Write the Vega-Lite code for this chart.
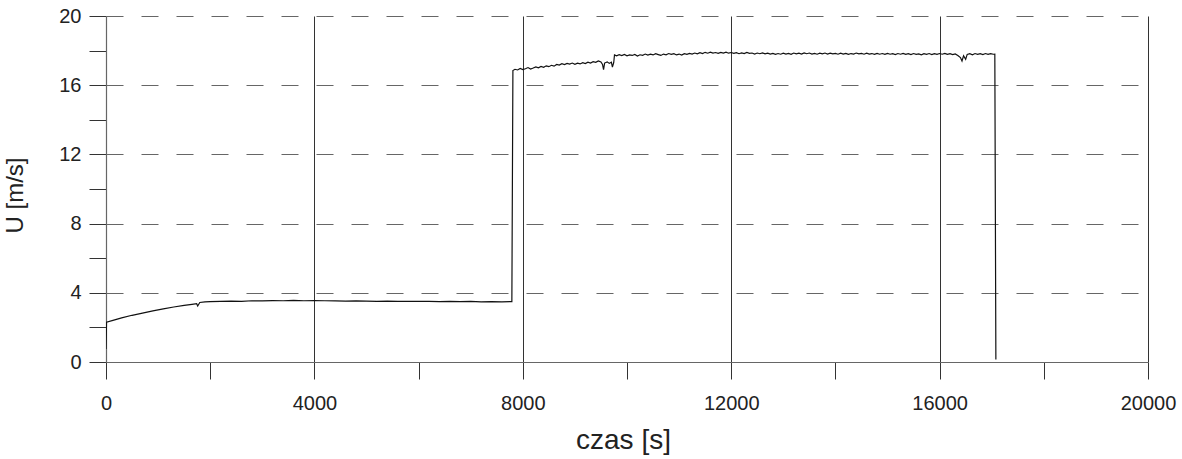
{
  "$schema": "https://vega.github.io/schema/vega-lite/v6.json",
  "autosize": {"type": "none"},
  "padding": {"left": 106, "top": 16, "right": 34, "bottom": 97},
  "width": 1042,
  "height": 346,
  "background": "white",
  "config": {
    "view": {"stroke": null},
    "font": "Liberation Sans",
    "axis": {"labelFont": "Liberation Sans", "titleFont": "Liberation Sans"}
  },
  "data": {
    "values": [
      {"t": 0, "u": 0.75}, {"t": 10, "u": 2.3}, {"t": 150, "u": 2.42}, {"t": 300, "u": 2.55},
      {"t": 500, "u": 2.7}, {"t": 700, "u": 2.83}, {"t": 900, "u": 2.96}, {"t": 1100, "u": 3.07},
      {"t": 1300, "u": 3.18}, {"t": 1500, "u": 3.27}, {"t": 1650, "u": 3.33}, {"t": 1740, "u": 3.37},
      {"t": 1760, "u": 3.24}, {"t": 1800, "u": 3.44}, {"t": 1900, "u": 3.47}, {"t": 2000, "u": 3.49},
      {"t": 2200, "u": 3.5}, {"t": 2400, "u": 3.52}, {"t": 2600, "u": 3.51}, {"t": 2800, "u": 3.54},
      {"t": 3000, "u": 3.53}, {"t": 3200, "u": 3.55}, {"t": 3400, "u": 3.54}, {"t": 3600, "u": 3.56},
      {"t": 3800, "u": 3.54}, {"t": 4000, "u": 3.55}, {"t": 4200, "u": 3.54}, {"t": 4400, "u": 3.53},
      {"t": 4600, "u": 3.52}, {"t": 4800, "u": 3.53}, {"t": 5000, "u": 3.52}, {"t": 5200, "u": 3.51},
      {"t": 5400, "u": 3.52}, {"t": 5600, "u": 3.5}, {"t": 5800, "u": 3.51}, {"t": 6000, "u": 3.5},
      {"t": 6200, "u": 3.51}, {"t": 6400, "u": 3.49}, {"t": 6600, "u": 3.5}, {"t": 6800, "u": 3.49},
      {"t": 7000, "u": 3.5}, {"t": 7200, "u": 3.48}, {"t": 7400, "u": 3.49}, {"t": 7600, "u": 3.48},
      {"t": 7790, "u": 3.49},
      {"t": 7810, "u": 16.85}, {"t": 7850, "u": 16.92}, {"t": 7900, "u": 16.88}, {"t": 7950, "u": 16.97},
      {"t": 8000, "u": 16.9}, {"t": 8050, "u": 16.95}, {"t": 8100, "u": 17.02}, {"t": 8150, "u": 16.93},
      {"t": 8200, "u": 16.99}, {"t": 8250, "u": 17.06}, {"t": 8300, "u": 17.0}, {"t": 8350, "u": 17.08},
      {"t": 8400, "u": 17.03}, {"t": 8450, "u": 17.12}, {"t": 8500, "u": 17.07}, {"t": 8550, "u": 17.15},
      {"t": 8600, "u": 17.1}, {"t": 8650, "u": 17.2}, {"t": 8700, "u": 17.16}, {"t": 8750, "u": 17.24},
      {"t": 8800, "u": 17.19}, {"t": 8850, "u": 17.26}, {"t": 8900, "u": 17.22}, {"t": 8950, "u": 17.28},
      {"t": 9000, "u": 17.21}, {"t": 9050, "u": 17.27}, {"t": 9100, "u": 17.23}, {"t": 9150, "u": 17.3},
      {"t": 9200, "u": 17.25}, {"t": 9250, "u": 17.33}, {"t": 9300, "u": 17.28}, {"t": 9350, "u": 17.36},
      {"t": 9400, "u": 17.32}, {"t": 9450, "u": 17.4}, {"t": 9500, "u": 17.34}, {"t": 9530, "u": 17.2},
      {"t": 9550, "u": 16.9}, {"t": 9570, "u": 17.28}, {"t": 9620, "u": 17.35}, {"t": 9660, "u": 17.26},
      {"t": 9700, "u": 17.33}, {"t": 9720, "u": 17.05}, {"t": 9745, "u": 17.3}, {"t": 9760, "u": 17.75},
      {"t": 9800, "u": 17.7}, {"t": 9850, "u": 17.76}, {"t": 9900, "u": 17.71}, {"t": 9950, "u": 17.78},
      {"t": 10000, "u": 17.7}, {"t": 10050, "u": 17.75}, {"t": 10100, "u": 17.72}, {"t": 10150, "u": 17.78},
      {"t": 10200, "u": 17.69}, {"t": 10250, "u": 17.76}, {"t": 10300, "u": 17.73}, {"t": 10350, "u": 17.8},
      {"t": 10400, "u": 17.74}, {"t": 10450, "u": 17.79}, {"t": 10500, "u": 17.75}, {"t": 10550, "u": 17.82},
      {"t": 10600, "u": 17.77}, {"t": 10650, "u": 17.72}, {"t": 10700, "u": 17.8}, {"t": 10750, "u": 17.76},
      {"t": 10800, "u": 17.83}, {"t": 10850, "u": 17.78}, {"t": 10900, "u": 17.82}, {"t": 10950, "u": 17.75},
      {"t": 11000, "u": 17.8}, {"t": 11050, "u": 17.74}, {"t": 11100, "u": 17.82}, {"t": 11150, "u": 17.78},
      {"t": 11200, "u": 17.84}, {"t": 11250, "u": 17.8}, {"t": 11300, "u": 17.86}, {"t": 11350, "u": 17.81},
      {"t": 11400, "u": 17.88}, {"t": 11450, "u": 17.83}, {"t": 11500, "u": 17.9}, {"t": 11550, "u": 17.85},
      {"t": 11600, "u": 17.91}, {"t": 11650, "u": 17.86}, {"t": 11700, "u": 17.89}, {"t": 11750, "u": 17.84},
      {"t": 11800, "u": 17.9}, {"t": 11850, "u": 17.86}, {"t": 11900, "u": 17.91}, {"t": 11950, "u": 17.85},
      {"t": 12000, "u": 17.89}, {"t": 12050, "u": 17.84}, {"t": 12100, "u": 17.88}, {"t": 12150, "u": 17.82},
      {"t": 12200, "u": 17.87}, {"t": 12250, "u": 17.83}, {"t": 12300, "u": 17.89}, {"t": 12350, "u": 17.84},
      {"t": 12400, "u": 17.86}, {"t": 12450, "u": 17.8}, {"t": 12500, "u": 17.86}, {"t": 12550, "u": 17.82},
      {"t": 12600, "u": 17.87}, {"t": 12650, "u": 17.81}, {"t": 12700, "u": 17.85}, {"t": 12750, "u": 17.8},
      {"t": 12800, "u": 17.84}, {"t": 12850, "u": 17.78}, {"t": 12900, "u": 17.83}, {"t": 12950, "u": 17.79},
      {"t": 13000, "u": 17.85}, {"t": 13050, "u": 17.8}, {"t": 13100, "u": 17.84}, {"t": 13150, "u": 17.79},
      {"t": 13200, "u": 17.86}, {"t": 13250, "u": 17.81}, {"t": 13300, "u": 17.85}, {"t": 13350, "u": 17.8},
      {"t": 13400, "u": 17.87}, {"t": 13450, "u": 17.82}, {"t": 13500, "u": 17.86}, {"t": 13550, "u": 17.8},
      {"t": 13600, "u": 17.84}, {"t": 13650, "u": 17.79}, {"t": 13700, "u": 17.85}, {"t": 13750, "u": 17.81},
      {"t": 13800, "u": 17.86}, {"t": 13850, "u": 17.8}, {"t": 13900, "u": 17.85}, {"t": 13950, "u": 17.81},
      {"t": 14000, "u": 17.84}, {"t": 14050, "u": 17.79}, {"t": 14100, "u": 17.85}, {"t": 14150, "u": 17.8},
      {"t": 14200, "u": 17.84}, {"t": 14250, "u": 17.78}, {"t": 14300, "u": 17.83}, {"t": 14350, "u": 17.8},
      {"t": 14400, "u": 17.86}, {"t": 14450, "u": 17.81}, {"t": 14500, "u": 17.84}, {"t": 14550, "u": 17.79},
      {"t": 14600, "u": 17.85}, {"t": 14650, "u": 17.8}, {"t": 14700, "u": 17.83}, {"t": 14750, "u": 17.78},
      {"t": 14800, "u": 17.84}, {"t": 14850, "u": 17.79}, {"t": 14900, "u": 17.83}, {"t": 14950, "u": 17.78},
      {"t": 15000, "u": 17.84}, {"t": 15050, "u": 17.79}, {"t": 15100, "u": 17.82}, {"t": 15150, "u": 17.77},
      {"t": 15200, "u": 17.83}, {"t": 15250, "u": 17.79}, {"t": 15300, "u": 17.84}, {"t": 15350, "u": 17.78},
      {"t": 15400, "u": 17.82}, {"t": 15450, "u": 17.77}, {"t": 15500, "u": 17.83}, {"t": 15550, "u": 17.78},
      {"t": 15600, "u": 17.81}, {"t": 15650, "u": 17.76}, {"t": 15700, "u": 17.82}, {"t": 15750, "u": 17.78},
      {"t": 15800, "u": 17.83}, {"t": 15850, "u": 17.77}, {"t": 15900, "u": 17.82}, {"t": 15950, "u": 17.78},
      {"t": 16000, "u": 17.83}, {"t": 16050, "u": 17.79}, {"t": 16100, "u": 17.84}, {"t": 16150, "u": 17.78},
      {"t": 16200, "u": 17.82}, {"t": 16250, "u": 17.77}, {"t": 16300, "u": 17.81}, {"t": 16350, "u": 17.72},
      {"t": 16400, "u": 17.6}, {"t": 16430, "u": 17.4}, {"t": 16460, "u": 17.7}, {"t": 16500, "u": 17.5},
      {"t": 16530, "u": 17.78}, {"t": 16580, "u": 17.82}, {"t": 16630, "u": 17.76}, {"t": 16680, "u": 17.83},
      {"t": 16730, "u": 17.78}, {"t": 16780, "u": 17.82}, {"t": 16830, "u": 17.77}, {"t": 16880, "u": 17.83},
      {"t": 16930, "u": 17.78}, {"t": 16980, "u": 17.82}, {"t": 17030, "u": 17.79}, {"t": 17060, "u": 17.8},
      {"t": 17080, "u": 0.15}
    ]
  },
  "mark": {"type": "line", "color": "#111111", "strokeWidth": 1.2, "clip": true},
  "encoding": {
    "x": {
      "field": "t", "type": "quantitative",
      "scale": {"domain": [0, 20000], "nice": false, "zero": false},
      "axis": {
        "title": "czas [s]",
        "values": [0, 2000, 4000, 6000, 8000, 10000, 12000, 14000, 16000, 18000, 20000],
        "format": "d",
        "labelExpr": "datum.value % 4000 === 0 ? datum.label : ''",
        "labelFontSize": 20, "labelColor": "#222222", "labelPadding": 14, "labelFlush": false,
        "tickSize": 17, "tickColor": "#333333", "tickWidth": 1,
        "domainColor": "#666666", "domainWidth": 1.2,
        "grid": true, "gridColor": "#333333", "gridWidth": 1,
        "gridOpacity": {"condition": {"test": "datum.value % 4000 !== 0 || datum.value === 0", "value": 0}, "value": 1},
        "titleFontSize": 28, "titleFontWeight": "normal", "titleColor": "#222222",
        "titleX": 517, "titleY": 86, "titleBaseline": "alphabetic", "titleAnchor": "middle"
      }
    },
    "y": {
      "field": "u", "type": "quantitative",
      "scale": {"domain": [0, 20], "nice": false},
      "axis": {
        "title": "U [m/s]",
        "values": [0, 2, 4, 6, 8, 10, 12, 14, 16, 18, 20],
        "labelExpr": "datum.value % 4 === 0 ? datum.label : ''",
        "labelFontSize": 20, "labelColor": "#222222", "labelPadding": 8,
        "tickSize": 17, "tickColor": "#333333", "tickWidth": 1,
        "domainColor": "#666666", "domainWidth": 1.2,
        "grid": true, "gridColor": "#666666", "gridWidth": 1.2, "gridDash": [17, 18],
        "gridOpacity": {"condition": {"test": "datum.value % 4 !== 0 || datum.value === 0", "value": 0}, "value": 1},
        "titleFontSize": 24, "titleFontWeight": "normal", "titleColor": "#222222",
        "titleX": -91, "titleY": 179, "titleBaseline": "middle", "titleAnchor": "middle", "titleAngle": -90
      }
    }
  }
}
